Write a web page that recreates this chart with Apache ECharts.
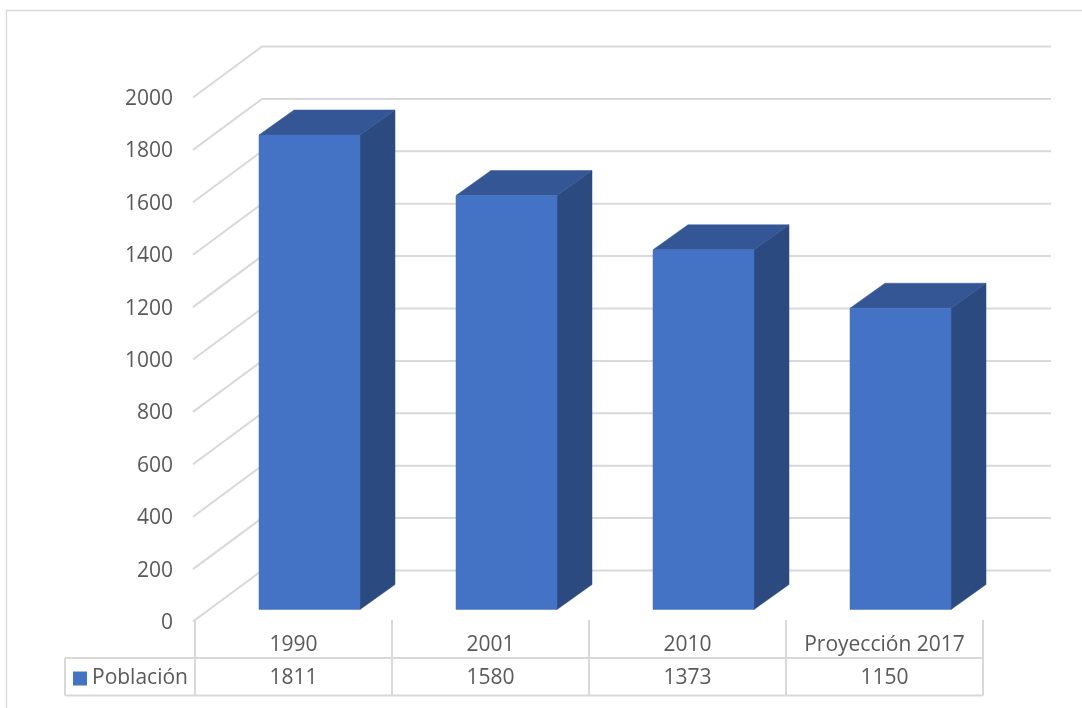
<!DOCTYPE html>
<html>
<head>
<meta charset="utf-8">
<style>html,body{margin:0;padding:0;background:#fff}#c{width:1082px;height:708px}</style>
<script src="https://cdn.jsdelivr.net/npm/echarts@6/dist/echarts.min.js"></script>
</head>
<body>
<div id="c"></div>
<script>
const categories = ['1990', '2001', '2010', 'Proyección 2017'];
const poblacion = [1811, 1580, 1373, 1150];
const yTicks = [0, 200, 400, 600, 800, 1000, 1200, 1400, 1600, 1800, 2000];
const seriesName = 'Población';

const GRAY = '#D9D9D9', TEXT = '#595959';
const FONT = '"Open Sans", "Noto Sans", sans-serif';
const FS = 21;
// projection of the 3D look, in px
const WALL = { dx: 67, dy: -50 }, FRONT = { dx: 16, dy: -10.5 }, DEPTH = { dx: 35, dy: -25 };
const BAR_W = 101, ROW1_H = 38, ROW2_H = 37.5;

const chart = echarts.init(document.getElementById('c'), null, { renderer: 'canvas' });

function line(pts, w) {
  return { type: 'polyline', shape: { points: pts }, style: { stroke: GRAY, lineWidth: w, fill: null } };
}

chart.setOption({
  backgroundColor: '#fff',
  animation: false,
  grid: { left: 195, right: 99, top: 96, bottom: 88, containLabel: false },
  legend: {
    data: [{ name: seriesName, icon: 'rect' }],
    left: 73, top: 668, itemWidth: 14, itemHeight: 14, itemGap: 5, padding: 0,
    selectedMode: false,
    textStyle: { color: TEXT, fontFamily: FONT, fontSize: FS, padding: [0, 0, 0, 0] }
  },
  xAxis: {
    type: 'category', data: categories, boundaryGap: true,
    axisLine: { show: false }, axisTick: { show: false }, splitLine: { show: false },
    axisLabel: { color: TEXT, fontFamily: FONT, fontSize: FS, margin: 15, interval: 0 }
  },
  yAxis: {
    type: 'value', min: 0, max: 2000, interval: 200,
    axisLine: { show: false }, axisTick: { show: false }, splitLine: { show: false },
    axisLabel: {
      margin: 22,
      formatter: v => '{t|' + v + '}',
      rich: { t: { color: TEXT, fontFamily: FONT, fontSize: FS, padding: [6, 0, 0, 0] } }
    }
  },
  graphic: [
    { type: 'rect', silent: true, z: 0, shape: { x: 6.5, y: 10.5, width: 1200, height: 800 },
      style: { fill: null, stroke: GRAY, lineWidth: 1.4 } }
  ],
  series: [
    { // back wall grid lines
      type: 'custom', name: 'grid', z: 1, silent: true,
      data: yTicks.map(v => [0, v]),
      renderItem(params, api) {
        const v = api.value(1);
        const p0 = api.coord([0, v]);
        const p1 = api.coord([categories.length - 1, v]);
        const band = api.size([1, 0])[0];
        const xl = p0[0] - band / 2, xr = p1[0] + band / 2, y = p0[1];
        return line([[xl - 2, y + 1.5], [xl + WALL.dx, y + WALL.dy + 0.5], [xr + WALL.dx + 1, y + WALL.dy + 0.5]], 2);
      }
    },
    { // data table: rules and value row
      type: 'custom', name: 'table', z: 1, silent: true,
      data: poblacion.map((v, i) => [i, v]),
      renderItem(params, api) {
        const i = api.value(0), v = api.value(1);
        const p = api.coord([i, 0]);
        const band = api.size([1, 0])[0];
        const xl = p[0] - band / 2, xr = p[0] + band / 2, y0 = p[1];
        const yTop = y0 + ROW1_H, yBot = yTop + ROW2_H;
        const kids = [
          line([[xl, y0], [xl, yBot]], 2),
          line([[xr, y0], [xr, yBot]], 2),
          line([[xl, yTop], [xr, yTop]], 2),
          line([[xl, yBot], [xr, yBot]], 2),
          { type: 'text', style: { text: String(v), x: p[0], y: yTop + ROW2_H / 2 + 1, align: 'center', verticalAlign: 'middle',
              fill: TEXT, font: FS + 'px ' + FONT } }
        ];
        if (i === 0) {
          const xc = xl - 130;
          kids.push(line([[xc, yTop], [xl, yTop]], 2), line([[xc, yBot], [xl, yBot]], 2), line([[xc, yTop], [xc, yBot]], 2));
        }
        return { type: 'group', children: kids };
      }
    },
    { // 3D bars
      type: 'custom', name: seriesName, z: 3,
      itemStyle: { color: '#4472C4' },
      data: poblacion.map((v, i) => [i, v]),
      renderItem(params, api) {
        const i = api.value(0), v = api.value(1);
        const top = api.coord([i, v]), base = api.coord([i, 0]);
        const xl = top[0] + FRONT.dx - BAR_W / 2, xr = xl + BAR_W;
        const yt = top[1] + FRONT.dy, yb = base[1] + FRONT.dy;
        const poly = (pts, fill) => ({ type: 'polygon', shape: { points: pts }, style: { fill, stroke: fill, lineWidth: 0.5 } });
        return { type: 'group', children: [
          poly([[xr, yt], [xr + DEPTH.dx, yt + DEPTH.dy], [xr + DEPTH.dx, yb + DEPTH.dy], [xr, yb]], '#2B4A80'),
          poly([[xl, yt], [xl + DEPTH.dx, yt + DEPTH.dy], [xr + DEPTH.dx, yt + DEPTH.dy], [xr, yt]], '#345695'),
          poly([[xl, yt], [xr, yt], [xr, yb], [xl, yb]], '#4472C4')
        ] };
      }
    }
  ]
});
</script>
</body>
</html>
